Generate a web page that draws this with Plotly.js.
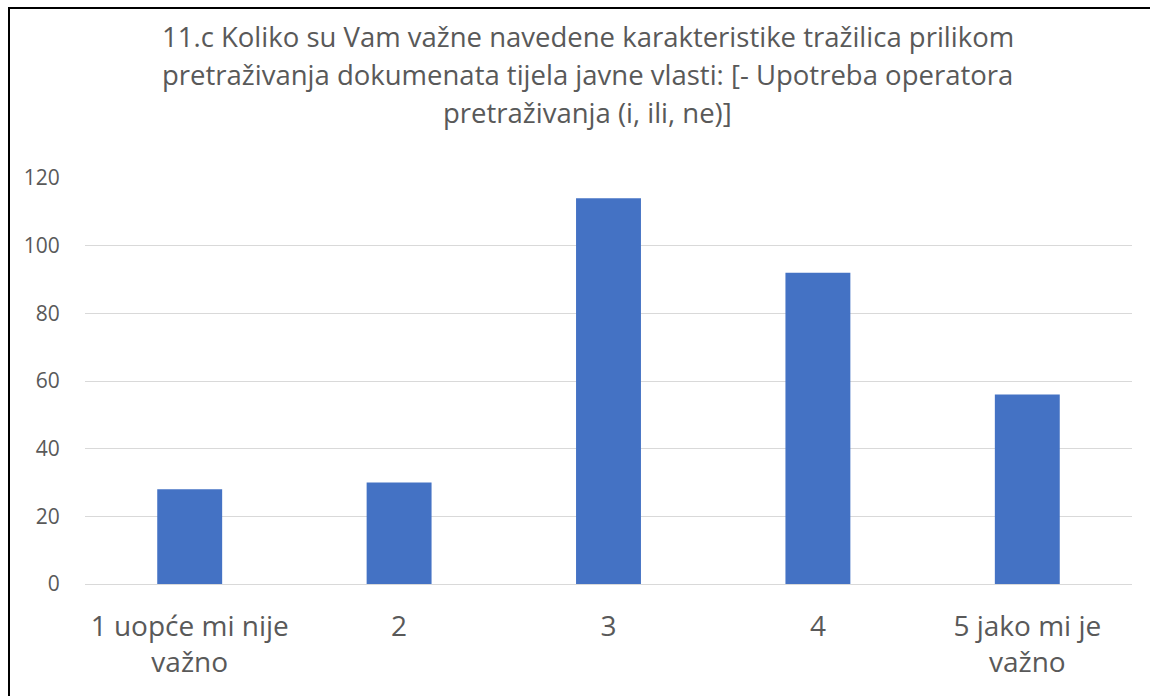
<!DOCTYPE html>
<html>
<head>
<meta charset="utf-8">
<script src="https://cdn.plot.ly/plotly-3.0.1.min.js"></script>
<style>
html,body{margin:0;padding:0;background:#fff;}
#wrap{position:relative;width:1150px;height:696px;overflow:hidden;}
#chart{position:absolute;left:0;top:0;width:1150px;height:696px;}
#frame{position:absolute;left:8px;top:7px;width:1200px;height:800px;border-left:2px solid #000;border-top:2px solid #000;pointer-events:none;}
</style>
</head>
<body>
<div id="wrap"><div id="chart"></div><div id="frame"></div></div>
<script>
const categories = ["1 uopće mi nije<br>važno", "2", "3", "4", "5 jako mi je<br>važno"];
const values = [28, 30, 114, 92, 56];
const titleLines = [
  "11.c Koliko su Vam važne navedene karakteristike tražilica prilikom",
  "pretraživanja dokumenata tijela javne vlasti: [- Upotreba operatora",
  "pretraživanja (i, ili, ne)]"
];
const yTicks = [0, 20, 40, 60, 80, 100, 120];

const FONT = "Open Sans, Liberation Sans, sans-serif";
const H = 696, mT = 178, mB = 112;
const plotH = H - mT - mB;
const titleY = [37, 75, 113];

const trace = {
  type: 'bar',
  x: categories,
  y: values,
  marker: {color: '#4472c4'},
  hoverinfo: 'x+y'
};

const annotations = titleLines.map((t, i) => ({
  text: t,
  xref: 'paper', yref: 'paper',
  x: 0.48, y: (H - mB - titleY[i]) / plotH,
  xanchor: 'center', yanchor: 'middle',
  showarrow: false,
  font: {family: FONT, size: 27.5, color: '#595959'}
}));

const layout = {
  width: 1150, height: 696,
  margin: {l: 85, r: 18, t: mT, b: mB},
  paper_bgcolor: '#fff', plot_bgcolor: '#fff',
  showlegend: false,
  bargap: 0.69,
  font: {family: FONT, color: '#595959'},
  xaxis: {
    type: 'category',
    showgrid: false, showline: false, zeroline: false,
    ticks: 'outside', ticklen: 17, tickcolor: 'rgba(0,0,0,0)',
    tickfont: {family: FONT, size: 28, color: '#595959'}
  },
  yaxis: {
    range: [0, 120],
    tickvals: yTicks,
    showgrid: true, gridcolor: '#d9d9d9', gridwidth: 1,
    zeroline: true, zerolinecolor: '#d9d9d9', zerolinewidth: 1,
    showline: false,
    ticks: 'outside', ticklen: 20, tickcolor: 'rgba(0,0,0,0)',
    tickfont: {family: FONT, size: 21, color: '#595959'}
  },
  annotations: annotations
};

Plotly.newPlot('chart', [trace], layout, {displayModeBar: false, staticPlot: true});
</script>
</body>
</html>
